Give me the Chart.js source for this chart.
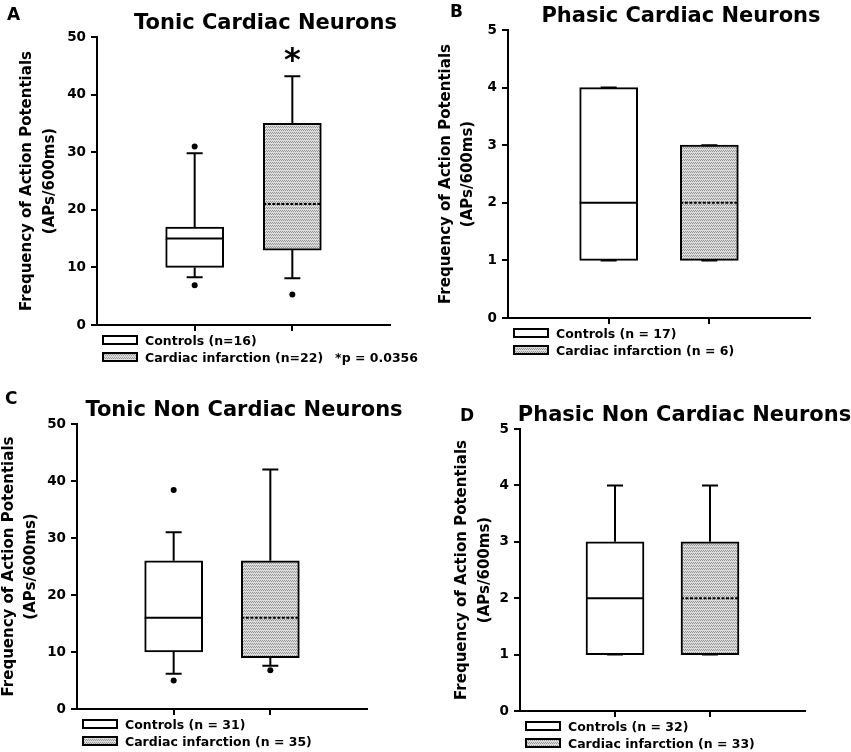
<!DOCTYPE html>
<html>
<head>
<meta charset="utf-8">
<script src="https://cdn.jsdelivr.net/npm/chart.js@4.4.1/dist/chart.umd.min.js"></script>
<style>
  body { margin: 0; background: #fff; }
  #wrap { position: relative; width: 851px; height: 752px; overflow: hidden; }
  #wrap canvas { position: absolute; }
</style>
</head>
<body>
<div id="wrap">
  <canvas id="chartA" width="425" height="376" style="left:0;top:0"></canvas>
  <canvas id="chartB" width="426" height="376" style="left:425px;top:0"></canvas>
  <canvas id="chartC" width="425" height="376" style="left:0;top:376px"></canvas>
  <canvas id="chartD" width="426" height="376" style="left:425px;top:376px"></canvas>
</div>
<script>
// data, one entry per panel (A, B, C, D); inner pairs are [controls, infarction]
const panelLetters = ['A', 'B', 'C', 'D'];
const panelTitles = ['Tonic Cardiac Neurons', 'Phasic Cardiac Neurons', 'Tonic Non Cardiac Neurons', 'Phasic Non Cardiac Neurons'];
const groupPositions = [1, 2];
const legendLabels = [
    ['Controls (n=16)', 'Cardiac infarction (n=22)'],
    ['Controls (n = 17)', 'Cardiac infarction (n = 6)'],
    ['Controls (n = 31)', 'Cardiac infarction (n = 35)'],
    ['Controls (n = 32)', 'Cardiac infarction (n = 33)']
];
const yAxisTitle = ['Frequency of Action Potentials', '(APs/600ms)'];
const yMax = [50, 5, 50, 5];
const yStep = [10, 1, 10, 1];
const q1Values = [[10, 13], [1, 1], [10, 9], [1, 1]];
const medianValues = [[15, 21], [2, 2], [16, 16], [2, 2]];
const q3Values = [[17, 35], [4, 3], [26, 26], [3, 3]];
const whiskerLow = [[8.3, 8.1], [1, 1], [6.2, 7.6], [1, 1]];
const whiskerHigh = [[29.8, 43.2], [4, 3], [31, 42], [4, 4]];
const outlierValues = [[[31, 6.9], [5.3]], [[], []], [[38.4, 5], [6.8]], [[], []]];
const significance = [['', '*'], ['', ''], ['', ''], ['', '']];
const pValueNotes = ['*p = 0.0356', '', '', ''];

// layout per panel (canvas-local pixels)
const layouts = [
    { w: 425, h: 376, area: [97, 37, 390, 325], letter: [7, 20], yTitleCenter: 27.5 },
    { w: 426, h: 376, area: [83, 30, 385, 318], letter: [25, 17], yTitleCenter: 21 },
    { w: 425, h: 376, area: [77, 48, 367, 333], letter: [5, 28], yTitleCenter: 9 },
    { w: 426, h: 376, area: [95, 53, 380, 335], letter: [35, 45], yTitleCenter: 37.5 }
];

const FONT = 'DejaVu Sans';
Chart.defaults.font.family = FONT;
Chart.defaults.font.weight = 'bold';
Chart.defaults.color = '#000';

function makePattern() {
    const c = document.createElement('canvas');
    c.width = 4; c.height = 3;
    const g = c.getContext('2d');
    g.fillStyle = '#dcdcdc';
    g.fillRect(0, 0, 4, 3);
    g.fillStyle = '#969696';
    [[0, 0], [1, 1], [2, 0], [3, 1]].forEach(p => g.fillRect(p[0], p[1], 1, 1));
    return document.createElement('canvas').getContext('2d').createPattern(c, 'repeat');
}
const hatch = makePattern();
const boxFills = ['#ffffff', hatch];
const medianDash = [[], [3, 1.5]];

const boxExtras = {
    id: 'boxExtras',
    afterDraw(chart, args, opts) {
        const i = opts.panel;
        const L = layouts[i];
        const ctx = chart.ctx;
        const xs = chart.scales.x, ys = chart.scales.y;
        const area = chart.chartArea;
        const meta = chart.getDatasetMeta(0);
        ctx.save();
        ctx.strokeStyle = '#000';
        ctx.lineWidth = 2;
        groupPositions.forEach((pos, j) => {
            const bar = meta.data[j];
            const xc = bar.x;
            const half = bar.width / 2;
            const cap = 8;
            const yq1 = ys.getPixelForValue(q1Values[i][j]);
            const yq3 = ys.getPixelForValue(q3Values[i][j]);
            const ylo = ys.getPixelForValue(whiskerLow[i][j]);
            const yhi = ys.getPixelForValue(whiskerHigh[i][j]);
            ctx.setLineDash([]);
            ctx.beginPath();
            ctx.moveTo(xc, yq3); ctx.lineTo(xc, yhi);
            ctx.moveTo(xc - cap, yhi); ctx.lineTo(xc + cap, yhi);
            ctx.moveTo(xc, yq1); ctx.lineTo(xc, ylo);
            ctx.moveTo(xc - cap, ylo); ctx.lineTo(xc + cap, ylo);
            ctx.stroke();
            const ym = ys.getPixelForValue(medianValues[i][j]);
            ctx.setLineDash(medianDash[j]);
            ctx.beginPath();
            ctx.moveTo(xc - half, ym); ctx.lineTo(xc + half, ym);
            ctx.stroke();
            if (significance[i][j]) {
                ctx.fillStyle = '#000';
                ctx.font = 'bold 32px ' + FONT;
                ctx.textAlign = 'center';
                ctx.textBaseline = 'middle';
                ctx.fillText(significance[i][j], xc, yhi - 14);
            }
        });
        ctx.setLineDash([]);
        ctx.fillStyle = '#000';
        // panel letter and title
        ctx.textBaseline = 'alphabetic';
        ctx.textAlign = 'left';
        ctx.font = 'bold 17px ' + FONT;
        ctx.fillText(panelLetters[i], L.letter[0], L.letter[1]);
        ctx.textAlign = 'center';
        ctx.font = 'bold 21px ' + FONT;
        ctx.fillText(panelTitles[i], (area.left + area.right) / 2 + 22, area.top - 8);
        // legend
        ctx.font = 'bold 12.5px ' + FONT;
        ctx.textAlign = 'left';
        legendLabels[i].forEach((label, j) => {
            const cy = area.bottom + 15 + j * 17;
            const sx = area.left + 6;
            ctx.fillStyle = boxFills[j];
            ctx.fillRect(sx, cy - 4, 34, 8);
            ctx.strokeRect(sx, cy - 4, 34, 8);
            ctx.fillStyle = '#000';
            ctx.fillText(label, sx + 42, cy + 5);
        });
        if (pValueNotes[i]) {
            ctx.textAlign = 'right';
            ctx.fillText(pValueNotes[i], area.right + 28, area.bottom + 15 + 17 + 5);
        }
        ctx.restore();
    }
};

['chartA', 'chartB', 'chartC', 'chartD'].forEach((id, i) => {
    const L = layouts[i];
    new Chart(document.getElementById(id), {
        type: 'bar',
        data: {
            datasets: [{
                type: 'bar',
                data: groupPositions.map((p, j) => ({ x: p, y: [q1Values[i][j], q3Values[i][j]] })),
                backgroundColor: boxFills,
                borderColor: '#000',
                borderWidth: 2,
                borderSkipped: false,
                grouped: false,
                barThickness: 58,
                order: 2
            }, {
                type: 'scatter',
                data: groupPositions.flatMap((p, j) => outlierValues[i][j].map(v => ({ x: p, y: v }))),
                backgroundColor: '#000',
                borderWidth: 0,
                pointRadius: 3,
                order: 1
            }]
        },
        options: {
            responsive: false,
            animation: false,
            devicePixelRatio: 1,
            layout: { padding: { left: 0, top: L.area[1], right: L.w - L.area[2], bottom: L.h - L.area[3] - 8 } },
            plugins: { legend: { display: false }, tooltip: { enabled: false }, boxExtras: { panel: i } },
            scales: {
                x: {
                    type: 'linear', min: 0, max: 3, offset: false,
                    ticks: { display: false },
                    afterBuildTicks: s => { s.ticks = groupPositions.map(v => ({ value: v })); },
                    grid: { offset: false, drawOnChartArea: false, tickLength: 6, color: '#000', lineWidth: 2 },
                    border: { color: '#000', width: 2 },
                    afterFit: s => { s.height = 8; }
                },
                y: {
                    type: 'linear', min: 0, max: yMax[i],
                    ticks: { stepSize: yStep[i], color: '#000', font: { size: 13.5, weight: 'bold' }, padding: 5 },
                    grid: { drawOnChartArea: false, tickLength: 6, color: '#000', lineWidth: 2 },
                    border: { color: '#000', width: 2 },
                    title: {
                        display: true, text: yAxisTitle, color: '#000',
                        font: { size: 15, weight: 'bold', lineHeight: 1.5 },
                        padding: { top: L.yTitleCenter - 11.25, bottom: 0 }
                    },
                    afterFit: s => { s.width = L.area[0]; }
                }
            }
        },
        plugins: [boxExtras]
    });
});
</script>
</body>
</html>
